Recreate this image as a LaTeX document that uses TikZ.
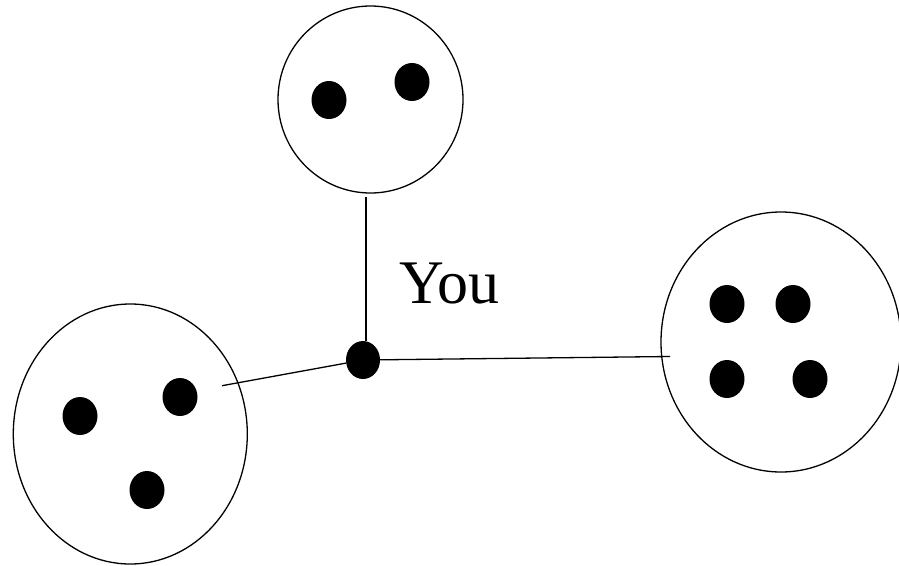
\documentclass[tikz,border=0pt]{standalone}
\usepackage{fontspec}
\setmainfont{Liberation Serif}
\usepackage{tikz}
\usetikzlibrary{positioning, shapes.geometric}

\begin{document}
\begin{tikzpicture}[
    x=1pt, y=-1pt,
    group/.style={ellipse, draw=black, line width=1.3pt, inner sep=0pt},
    member/.style={ellipse, fill=black, inner sep=0pt, minimum width=35pt, minimum height=38pt},
    link/.style={line width=1.3pt}
]
\useasboundingbox (0,0) rectangle (899,565);

% Groups
\node[group, minimum width=185pt, minimum height=187pt] (top) at (370.5,99.5) {};
\node[group, minimum width=234pt, minimum height=260pt] (left) at (130.3,434) {};
\node[group, minimum width=240pt, minimum height=260pt] (right) at (781,342) {};

% Members
\node[member] (t1) at (329,100) {};
\node[member] (t2) at (412,82) {};
\node[member] (l1) at (80,416) {};
\node[member] (l2) at (180,397) {};
\node[member] (l3) at (147,490) {};
\node[member] (r1) at (727,304) {};
\node[member] (r2) at (793,304) {};
\node[member] (r3) at (727,379) {};
\node[member] (r4) at (810,379) {};

% You
\node[member, minimum width=34pt] (you) at (363,360) {};
\node[anchor=base west, inner sep=0pt, font=\fontsize{62}{68}\selectfont] (label) at (399,303) {You};

% Links
\coordinate (topend) at (366,197);
\coordinate (leftend) at (222,385.7);
\coordinate (rightend) at (670,356.5);
\draw[link] (topend) -- (topend |- you.north);
\draw[link] (you) -- (leftend);
\draw[link] (you) -- (rightend);
\end{tikzpicture}
\end{document}
